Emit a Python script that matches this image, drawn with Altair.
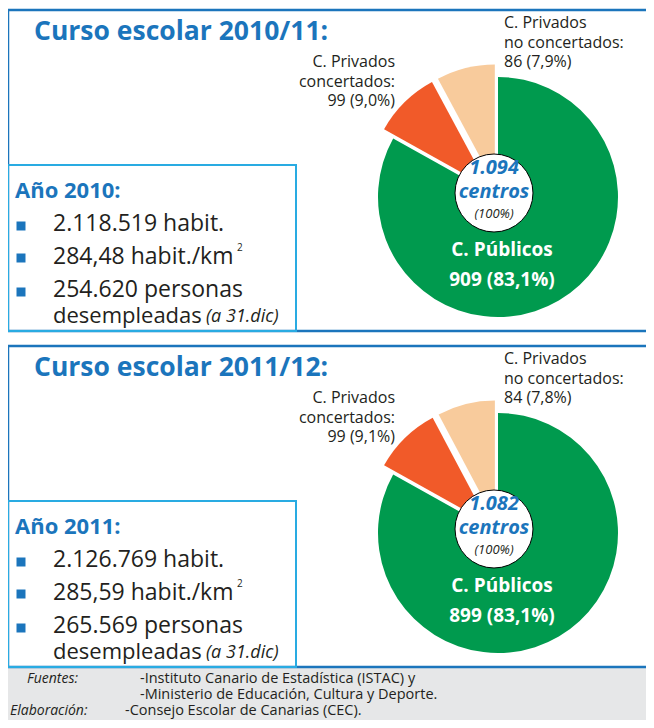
import math
import altair as alt
import pandas as pd

# ---------------- data ----------------
years = ["2010/11", "2011/12"]
cats = ["C. Públicos", "C. Privados concertados", "C. Privados no concertados"]
centros = {"2010/11": [909, 99, 86], "2011/12": [899, 99, 84]}
titles = ["Curso escolar 2010/11:", "Curso escolar 2011/12:"]
anio = ["Año 2010:", "Año 2011:"]
habitantes = ["2.118.519 habit.", "2.126.769 habit."]
densidad = ["284,48 habit./km", "285,59 habit./km"]
desempleo = ["254.620 personas", "265.569 personas"]
fuentes = ["-Instituto Canario de Estadística (ISTAC)  y",
           "-Ministerio de Educación, Cultura y Deporte."]
elaboracion = "-Consejo Escolar de Canarias (CEC)."

colors = ["#009A4E", "#F15A29", "#F8CB9C"]
BLUE = "#1B75BC"
CYAN = "#29ABE2"
DARK = "#231F20"
FONT = "Open Sans"

rows = []
for y in years:
    for i, (c, v) in enumerate(zip(cats, centros[y])):
        rows.append({"year": y, "cat": c, "value": v, "order": i})
df = pd.DataFrame(rows)

dummy = alt.Data(values=[{"a": 1}])
M = 8  # page margin


def P(v):
    return v - M


def txt(s, x, y, size, color=DARK, weight="normal", style="normal", align="left", baseline="middle"):
    return alt.Chart(dummy).mark_text(
        fontSize=size, font=FONT, color=color, fontWeight=weight, fontStyle=style,
        align=align, baseline=baseline
    ).encode(x=alt.value(P(x)), y=alt.value(P(y)), text=alt.value(s))


def box(x1, y1, x2, y2, stroke, sw=2, fill="white", fo=0):
    return alt.Chart(dummy).mark_rect(fill=fill, fillOpacity=fo, stroke=stroke, strokeWidth=sw).encode(
        x=alt.value(P(x1)), x2=alt.value(P(x2)), y=alt.value(P(y1)), y2=alt.value(P(y2)))


theta_scale = alt.Scale(domain=[0, 1], range=[0, 2 * math.pi])
color_scale = alt.Scale(domain=cats, range=colors)

base_pie = alt.Chart(df).transform_window(
    cum="sum(value)", sort=[alt.SortField("order")], groupby=["year"]
).transform_joinaggregate(total="sum(value)", groupby=["year"]).transform_calculate(
    t0="(datum.cum - datum.value) / datum.total", t1="datum.cum / datum.total"
)

layers = []
# footer
layers.append(box(8, 667, 670, 740, "#E6E7E8", sw=0, fill="#E6E7E8", fo=1))
layers.append(txt("Fuentes:", 27, 679, 14, style="italic"))
layers.append(txt(fuentes[0], 140, 679, 14.5))
layers.append(txt(fuentes[1], 140, 695, 14.5))
layers.append(txt("Elaboración:", 10, 711, 14, style="italic"))
layers.append(txt(elaboracion, 125, 711, 14.5))

R = 120
EXP = 13
for k, y in enumerate(years):
    off = 0 if k == 0 else 336
    vals = centros[y]
    total = sum(vals)
    # outer box
    layers.append(box(8, 10 + off, 670, 331 + off, BLUE, sw=2.5))
    layers.append(box(8, 165 + off, 296, 331 + off, CYAN, sw=2))
    layers.append(txt(titles[k], 34, 32 + off, 26.5, color=BLUE, weight="bold"))
    # pie
    cx, cy = 498, 197 + off
    cum = 0
    for i, c in enumerate(cats):
        mid = (cum + vals[i] / 2) / total
        cum += vals[i]
        e = 0 if i == 0 else EXP
        dx = e * math.sin(2 * math.pi * mid)
        dy = -e * math.cos(2 * math.pi * mid)
        layers.append(
            base_pie.transform_filter(
                (alt.datum.year == y) & (alt.datum.cat == c)
            ).mark_arc(radius=R, stroke=None).encode(
                theta=alt.Theta("t0:Q", scale=theta_scale),
                theta2="t1:Q",
                color=alt.Color("cat:N", scale=color_scale, legend=None),
                x=alt.value(P(cx + dx)),
                y=alt.value(P(cy + dy)),
            )
        )
    # centre circle
    layers.append(alt.Chart(dummy).mark_point(
        shape="circle", filled=True, fill="white", stroke="black", strokeWidth=1, opacity=1,
        size=math.pi * 44 ** 2
    ).encode(x=alt.value(P(494)), y=alt.value(P(193 + off))))
    tot_s = f"{total:,}".replace(",", ".")
    layers.append(txt(tot_s, 494, 168 + off, 20, color=BLUE, weight="bold", style="italic", align="center"))
    layers.append(txt("centros", 494, 192 + off, 20, color=BLUE, weight="bold", style="italic", align="center"))
    layers.append(txt("(100%)", 494, 214 + off, 13, style="italic", align="center"))

    def lab(v):
        return f"{v} ({v / total * 100:.1f}%)".replace(".", ",")

    layers.append(txt("C. Públicos", 502, 250 + off, 19, color="white", weight="bold", align="center"))
    layers.append(txt(lab(vals[0]), 502, 280 + off, 19, color="white", weight="bold", align="center"))
    # concertados label
    layers.append(txt("C. Privados", 395, 62 + off, 16, align="right"))
    layers.append(txt("concertados:", 395, 81.5 + off, 16, align="right"))
    layers.append(txt(lab(vals[1]), 395, 101 + off, 16, align="right"))
    # no concertados label
    layers.append(txt("C. Privados", 504, 23 + off, 16))
    layers.append(txt("no concertados:", 504, 42.5 + off, 16))
    layers.append(txt(lab(vals[2]), 504, 62 + off, 16))
    # Año box
    layers.append(txt(anio[k], 15, 191 + off, 22, color=BLUE, weight="bold"))
    for j, yy in enumerate([226, 258, 292]):
        layers.append(alt.Chart(dummy).mark_square(size=81, color=BLUE, opacity=1).encode(
            x=alt.value(P(21)), y=alt.value(P(yy + off))))
    layers.append(txt(habitantes[k], 53, 224 + off, 23))
    layers.append(txt(densidad[k], 53, 257 + off, 23))
    layers.append(txt("2", 237, 248 + off, 10))
    layers.append(txt(desempleo[k], 53, 290 + off, 23))
    layers.append(txt("desempleadas", 53, 316 + off, 22))
    layers.append(txt("(a 31.dic)", 206, 317 + off, 18, style="italic"))

chart = alt.layer(*layers).properties(
    width=638, height=712, padding=0, autosize="none"
).configure_view(stroke=None)

chart.save("out.html", embed_options={"renderer": "svg", "actions": False})
